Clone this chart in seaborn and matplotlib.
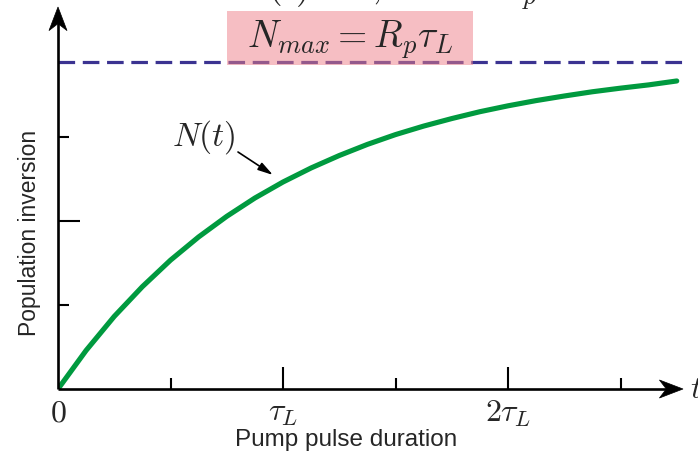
import matplotlib
matplotlib.use("Agg")
import matplotlib.pyplot as plt
from matplotlib.patches import Rectangle, Polygon
from matplotlib.transforms import Affine2D
import seaborn as sns
import pandas as pd

# ---- data (t in units of tau_L, N in units of N_max) ----
t_values = [0.0, 0.125, 0.25, 0.375, 0.5, 0.625, 0.75, 0.875, 1.0, 1.125, 1.25,
            1.375, 1.5, 1.625, 1.75, 1.875, 2.0, 2.125, 2.25, 2.375, 2.5, 2.625, 2.75]
n_values = [0.0, 0.118, 0.222, 0.313, 0.394, 0.465, 0.528, 0.584, 0.633, 0.676, 0.714,
            0.748, 0.778, 0.804, 0.827, 0.848, 0.866, 0.882, 0.896, 0.909, 0.920, 0.930, 0.942]
n_max = 1.0
x_major_ticks = [1, 2]
x_major_labels = [r"$\tau_L$", r"$2\tau_L$"]
x_minor_ticks = [0.5, 1.5, 2.5]
y_major_ticks = [0.514]
y_minor_ticks = [0.257, 0.771]

df = pd.DataFrame({"t": t_values, "N": n_values})

sns.set_style("white")
plt.rcParams["font.family"] = ["Liberation Sans", "DejaVu Sans"]
plt.rcParams["mathtext.fontset"] = "cm"

fig = plt.figure(figsize=(6.98, 4.56), dpi=100)
ax = fig.add_axes([58 / 698, 66 / 456, 625 / 698, 382 / 456])
ax.set_xlim(0, 625 / 225)
ax.set_ylim(0, 382 / 327)
for s in ax.spines.values():
    s.set_visible(False)
ax.set_xticks([])
ax.set_yticks([])

# dashed N_max line
ax.axhline(n_max, xmin=0, xmax=1.003, color="#3b3391", lw=2.3, dashes=(5.2, 2.4),
           clip_on=False, zorder=2)

# pink highlight box over the dashed line
ax.add_patch(Rectangle((0.751, 0.991), 1.093, 0.165, facecolor="#ee7f88", alpha=0.5,
                       edgecolor="none", zorder=3, clip_on=False))
ax.text(1.298, 1.072, r"$N_{max} = R_p\tau_L$", fontsize=27, ha="center", va="center",
        zorder=4)

# curve
sns.lineplot(data=df, x="t", y="N", ax=ax, color="#009a3f", lw=3.7, zorder=5,
             legend=False)
ax.set_xlabel("")
ax.set_ylabel("")

# axes lines with stealth arrow heads
ox, oy = ax.transAxes.transform((0, 0))
tx, _ = ax.transAxes.transform((1, 0))
_, ty = ax.transAxes.transform((0, 1))
pt = fig.dpi / 72.0
notch = 11 * pt
fig.add_artist(plt.Line2D([ox, tx - notch], [oy, oy], transform=None, color="black",
                          lw=1.9, solid_capstyle="butt", zorder=6))
fig.add_artist(plt.Line2D([ox, ox], [oy, ty - notch], transform=None, color="black",
                          lw=1.9, solid_capstyle="butt", zorder=6))
head = [(0, 0), (-17, 6.5), (-12, 0), (-17, -6.5)]
fig.add_artist(Polygon(head, closed=True, facecolor="black", edgecolor="black", lw=0.5,
                       transform=Affine2D().scale(pt).translate(tx, oy), zorder=6))
fig.add_artist(Polygon(head, closed=True, facecolor="black", edgecolor="black", lw=0.5,
                       transform=Affine2D().scale(pt).rotate_deg(90).translate(ox, ty),
                       zorder=6))

# ticks (pointing inward)
for xt in x_major_ticks:
    ax.plot([xt, xt], [0, 22 / 327], color="black", lw=1.5, solid_capstyle="butt",
            clip_on=False)
for xt in x_minor_ticks:
    ax.plot([xt, xt], [0, 11 / 327], color="black", lw=1.5, solid_capstyle="butt",
            clip_on=False)
for yt in y_major_ticks:
    ax.plot([0, 22 / 225], [yt, yt], color="black", lw=1.5, solid_capstyle="butt",
            clip_on=False)
for yt in y_minor_ticks:
    ax.plot([0, 11 / 225], [yt, yt], color="black", lw=1.5, solid_capstyle="butt",
            clip_on=False)

# tick labels
ax.text(0, -0.025, r"$0$", fontsize=23, ha="center", va="top")
for xt, lab in zip(x_major_ticks, x_major_labels):
    ax.text(xt, -0.025, lab, fontsize=23, ha="center", va="top")
ax.text(2.81, 0, r"$t$", fontsize=23, ha="left", va="center", clip_on=False)

# axis labels
fig.text(346 / 698, 1 - 440 / 456, "Pump pulse duration", fontsize=17.5, ha="center",
         va="center")
fig.text(30 / 698, 1 - 233 / 456, "Population inversion", fontsize=16.5, ha="center",
         va="center", rotation=90)

# N(t) label and its arrow
ax.text((204 - 58) / 225, (390 - 137) / 327, r"$N(t)$", fontsize=24,
        ha="center", va="center")
ax.annotate("", xy=((273 - 58) / 225, (390 - 176) / 327),
            xytext=((238 - 58) / 225, (390 - 153) / 327),
            arrowprops=dict(arrowstyle="-|>,head_length=0.9,head_width=0.25",
                            color="black", lw=1.2, shrinkA=0, shrinkB=0))

# partially clipped equation at the top edge
fig.text(236 / 698, 1 + 1 / 456, r"$\dot N(t) = 0,\ \ \ N = R_p$", fontsize=27,
         ha="left", va="baseline")

fig.savefig("out.png", dpi=100)
